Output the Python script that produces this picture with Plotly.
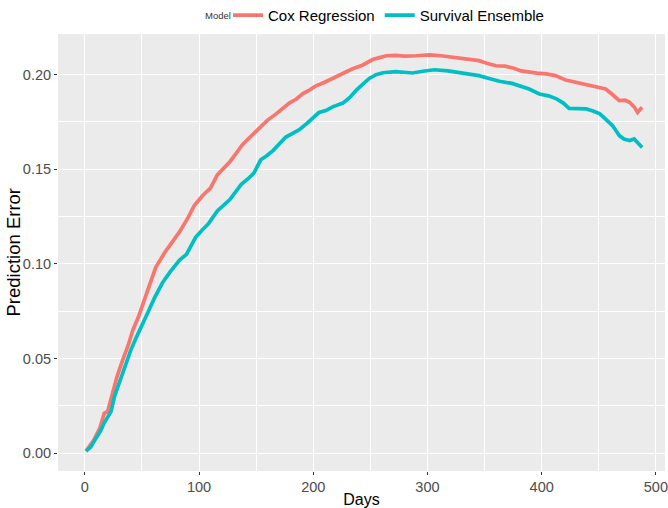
import plotly.graph_objects as go

cox_days = [1, 8, 13, 17, 20, 24, 28, 33, 38, 42, 47, 51, 56, 62, 70, 77, 83, 90, 96, 103,
            110, 116, 121, 127, 132, 138, 143, 148, 154, 160, 167, 173, 179, 185, 191, 197,
            202, 210, 217, 225, 234, 243, 252, 258, 264, 272, 280, 290, 302, 312, 322, 333,
            345, 352, 360, 368, 375, 382, 389, 396, 404, 412, 421, 430, 439, 447, 456, 462,
            468, 473, 477, 481, 484, 486, 488]
cox_err = [0.001, 0.007, 0.013, 0.021, 0.022, 0.031, 0.040, 0.049, 0.057, 0.065, 0.072, 0.079,
           0.088, 0.098, 0.106, 0.112, 0.117, 0.124, 0.131, 0.136, 0.140, 0.147, 0.150, 0.154,
           0.158, 0.163, 0.166, 0.169, 0.173, 0.176, 0.179, 0.182, 0.185, 0.187, 0.190, 0.192,
           0.194, 0.196, 0.198, 0.200, 0.203, 0.205, 0.208, 0.209, 0.210, 0.2102, 0.2098,
           0.2100, 0.2105, 0.2100, 0.2092, 0.2085, 0.2074, 0.2060, 0.2047, 0.2045, 0.2035,
           0.2020, 0.2012, 0.2008, 0.2004, 0.1995, 0.1972, 0.1960, 0.1951, 0.1940, 0.1924,
           0.1895, 0.1863, 0.1865, 0.1854, 0.1830, 0.1801, 0.1815, 0.1827]

ens_days = [1, 5, 10, 14, 17, 20, 23, 26, 31, 36, 40, 45, 50, 55, 61, 68, 75, 83, 89, 97, 103,
            108, 116, 121, 127, 132, 137, 143, 148, 154, 159, 165, 170, 176, 182, 188, 194,
            200, 205, 211, 217, 226, 232, 238, 244, 249, 255, 261, 272, 280, 287, 296, 306,
            318, 330, 338, 345, 354, 363, 374, 382, 389, 398, 406, 413, 419, 424, 432, 439,
            445, 451, 456, 462, 465, 468, 472, 477, 481, 484, 488]
ens_err = [0.001, 0.003, 0.008, 0.012, 0.016, 0.019, 0.022, 0.030, 0.039, 0.047, 0.054, 0.061,
           0.067, 0.074, 0.082, 0.090, 0.096, 0.102, 0.105, 0.114, 0.118, 0.121, 0.128, 0.131,
           0.134, 0.138, 0.142, 0.145, 0.148, 0.155, 0.157, 0.160, 0.163, 0.167, 0.169, 0.171,
           0.174, 0.177, 0.180, 0.181, 0.183, 0.185, 0.188, 0.192, 0.195, 0.198, 0.200, 0.201,
           0.2016, 0.2012, 0.2009, 0.2018, 0.2026, 0.2020, 0.2009, 0.2005, 0.1995, 0.1980,
           0.1965, 0.1954, 0.1940, 0.1924, 0.1898, 0.1888, 0.1872, 0.1850, 0.1822, 0.1822,
           0.1819, 0.1808, 0.1793, 0.1765, 0.1731, 0.1705, 0.1678, 0.1660, 0.1652, 0.1660,
           0.1640, 0.1615]

x_ticks = [0, 100, 200, 300, 400, 500]
y_ticks = [0.00, 0.05, 0.10, 0.15, 0.20]
y_tick_labels = ["0.00", "0.05", "0.10", "0.15", "0.20"]

FONT = "Liberation Sans, Arial, sans-serif"

fig = go.Figure()
fig.add_trace(go.Scatter(x=cox_days, y=cox_err, mode="lines", name="Cox Regression",
                         line=dict(color="#F8766D", width=3.7)))
fig.add_trace(go.Scatter(x=ens_days, y=ens_err, mode="lines", name="Survival Ensemble",
                         line=dict(color="#00BFC4", width=3.7)))

axis_common = dict(showline=False, zeroline=False, gridcolor="white", gridwidth=1.1,
                   ticks="outside", ticklen=3, tickcolor="#333333", tickwidth=1,
                   automargin=True,
                   tickfont=dict(family=FONT, size=14.5, color="#4D4D4D"))

fig.update_xaxes(range=[-23.5, 508], tickvals=x_ticks,
                 title=dict(text="Days", font=dict(family=FONT, size=16, color="black"), standoff=2),
                 minor=dict(tickvals=[50, 150, 250, 350, 450], showgrid=True,
                            gridcolor="white", gridwidth=0.5, ticks=""),
                 **axis_common)
fig.update_yaxes(range=[-0.0095, 0.2215], tickvals=y_ticks, ticktext=y_tick_labels,
                 minor=dict(tickvals=[0.025, 0.075, 0.125, 0.175], showgrid=True,
                            gridcolor="white", gridwidth=0.5, ticks=""),
                 **axis_common)

# y-axis title and legend title as text annotations (positioned like ggplot2)
fig.add_annotation(text="Prediction Error", textangle=-90, xref="paper", yref="paper",
                   x=(13 - 58) / 607, y=0.5, xanchor="center", yanchor="middle", showarrow=False,
                   font=dict(family=FONT, size=18.5, color="black"))
fig.add_annotation(text="Model", xref="paper", yref="paper",
                   x=(233 - 58) / 607, y=1 + (34 - 16) / 437, xanchor="right", yanchor="middle",
                   showarrow=False, font=dict(family=FONT, size=9.5, color="#333333"))

fig.update_layout(
    width=668, height=508,
    paper_bgcolor="white", plot_bgcolor="#EBEBEB",
    margin=dict(l=58, r=3, t=34, b=37, autoexpand=False),
    font=dict(family=FONT),
    legend=dict(orientation="h", x=(228 - 58) / 607, xanchor="left", y=1.005, yanchor="bottom",
                font=dict(family=FONT, size=15, color="black"),
                itemwidth=30, tracegroupgap=0, bgcolor="rgba(0,0,0,0)"),
    showlegend=True,
)

fig.write_html("out.html", config={"displayModeBar": False},
               post_script="document.body.style.margin='0';")
